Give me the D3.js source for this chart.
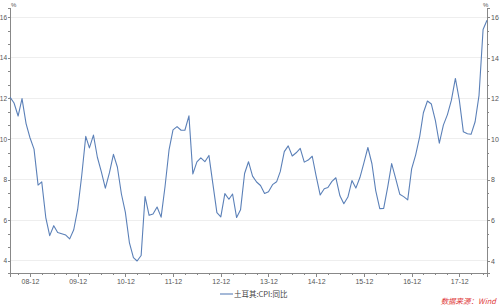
<!DOCTYPE html>
<html lang="zh">
<head>
    <meta charset="UTF-8">
    <title>土耳其:CPI:同比</title>
    <script src="https://d3js.org/d3.v7.min.js"></script>
    <style>
        body { margin: 0; background: #fff; }
        svg { display: block; font-family: "Liberation Sans", "Noto Sans CJK SC", sans-serif; }
        .axis path, .axis line { stroke: #888; shape-rendering: crispEdges; }
        .axis text { fill: #555; font-size: 7px; }
        .grid line { stroke: #eeeeee; shape-rendering: crispEdges; }
    </style>
</head>
<body>
<svg id="chart" width="500" height="306"></svg>
<script>
    // 数据: 2008-07 ~ 2018-07 月度
    var firstMonth = "2008-07";
    var lastMonth = "2018-07";
    var cpiYoY = [
        12.06, 11.77, 11.13, 11.99, 10.76, 10.06,
        9.50, 7.73, 7.89, 6.13, 5.24, 5.73, 5.39, 5.33, 5.27, 5.08, 5.53, 6.53,
        8.19, 10.13, 9.56, 10.19, 9.10, 8.37, 7.58, 8.33, 9.24, 8.62, 7.29, 6.40,
        4.90, 4.16, 3.99, 4.26, 7.17, 6.24, 6.31, 6.65, 6.15, 7.66, 9.48, 10.45,
        10.61, 10.43, 10.43, 11.14, 8.28, 8.87, 9.07, 8.88, 9.19, 7.80, 6.37, 6.16,
        7.31, 7.03, 7.29, 6.13, 6.51, 8.30, 8.88, 8.17, 7.88, 7.71, 7.32, 7.40,
        7.75, 7.89, 8.39, 9.38, 9.66, 9.16, 9.32, 9.54, 8.86, 8.96, 9.15, 8.17,
        7.24, 7.55, 7.61, 7.91, 8.09, 7.20, 6.81, 7.14, 7.95, 7.58, 8.10, 8.81,
        9.58, 8.78, 7.46, 6.57, 6.58, 7.64, 8.79, 8.05, 7.28, 7.16, 7.00, 8.53,
        9.22, 10.13, 11.29, 11.87, 11.72, 10.90, 9.79, 10.68, 11.20, 11.90, 12.98, 11.92,
        10.35, 10.26, 10.23, 10.85, 12.15, 15.39, 15.85
    ];
    var xTickLabels = ["08-12", "09-12", "10-12", "11-12", "12-12", "13-12", "14-12", "15-12", "16-12", "17-12"];
    var yTicks = [4, 6, 8, 10, 12, 14, 16];
    var seriesName = "土耳其:CPI:同比";
    var sourceText = "数据来源：Wind";

    var parseMonth = d3.timeParse("%Y-%m");
    var start = parseMonth(firstMonth), end = parseMonth(lastMonth);
    var months = d3.timeMonth.range(start, d3.timeMonth.offset(end, 1));
    var data = months.map(function(d, i) { return { date: d, value: cpiYoY[i] }; });

    var plotL = 10, plotR = 487, plotT = 8, plotB = 273;
    var svg = d3.select("#chart");

    var x = d3.scaleTime().domain([start, end]).range([plotL, plotR]);
    var y = d3.scaleLinear().domain([3.4, 16.45]).range([plotB, plotT]);

    // 网格线
    svg.append("g").attr("class", "grid")
        .selectAll("line").data(yTicks).enter().append("line")
        .attr("x1", plotL).attr("x2", plotR)
        .attr("y1", function(d) { return y(d); })
        .attr("y2", function(d) { return y(d); });

    // y轴 小刻度 (每格 2/3)
    var minorY = [];
    for (var k = -1; k <= 19; k++) {
        var v = 4 + k * 2 / 3;
        if (k % 3 !== 0 && v >= 3.4 && v <= 16.45) minorY.push(v);
    }

    svg.append("g").attr("class", "axis")
        .attr("transform", "translate(" + plotL + ",0)")
        .call(d3.axisLeft(y).tickValues(minorY).tickSize(2).tickFormat(""));
    svg.append("g").attr("class", "axis")
        .attr("transform", "translate(" + plotL + ",0)")
        .call(d3.axisLeft(y).tickValues(yTicks).tickSize(2.5).tickPadding(0.5).tickFormat(d3.format("d")));

    svg.append("g").attr("class", "axis")
        .attr("transform", "translate(" + plotR + ",0)")
        .call(d3.axisRight(y).tickValues(minorY).tickSize(2).tickFormat(""));
    svg.append("g").attr("class", "axis")
        .attr("transform", "translate(" + plotR + ",0)")
        .call(d3.axisRight(y).tickValues(yTicks).tickSize(3).tickPadding(1).tickFormat(d3.format("d")));

    svg.selectAll(".axis text").filter(function() { return this.closest("g.axis").getAttribute("transform") === "translate(" + plotL + ",0)"; })
        .style("font-size", "6.5px");

    // x轴
    var majorX = xTickLabels.map(function(s) { return d3.timeParse("%y-%m")(s); });
    var minorX = months.filter(function(d) { return d.getMonth() % 3 === 2 && d.getMonth() !== 11; });

    svg.append("g").attr("class", "axis")
        .attr("transform", "translate(0," + plotB + ")")
        .call(d3.axisBottom(x).tickValues(minorX).tickSize(2).tickFormat(""));
    svg.append("g").attr("class", "axis")
        .attr("transform", "translate(0," + plotB + ")")
        .call(d3.axisBottom(x).tickValues(majorX).tickSize(4).tickPadding(2)
            .tickFormat(function(d, i) { return xTickLabels[i]; }));

    // 单位
    svg.append("text").attr("x", plotL + 1).attr("y", 7).attr("font-size", 6).attr("fill", "#555").text("%");
    svg.append("text").attr("x", plotR - 4).attr("y", 7).attr("font-size", 6).attr("fill", "#555").text("%");

    // 折线
    var line = d3.line()
        .x(function(d) { return x(d.date); })
        .y(function(d) { return y(d.value); });
    svg.append("path").datum(data)
        .attr("fill", "none")
        .attr("stroke", "#5b80b8")
        .attr("stroke-width", 1.1)
        .attr("stroke-linejoin", "round")
        .attr("d", line);

    // 图例
    var legend = svg.append("g").attr("transform", "translate(220,294)");
    legend.append("line").attr("x1", 0).attr("x2", 13).attr("y1", 0).attr("y2", 0)
        .attr("stroke", "#5b80b8").attr("stroke-width", 1.1);
    legend.append("text").attr("x", 14).attr("y", 2.5)
        .attr("font-size", 7.5).attr("fill", "#444")
        .attr("font-family", "'Noto Sans CJK SC', sans-serif")
        .text(seriesName);

    // 数据来源
    svg.append("text").attr("x", 496).attr("y", 304)
        .attr("text-anchor", "end")
        .attr("font-size", 7.5).attr("font-style", "italic")
        .attr("font-family", "'Noto Sans CJK SC', sans-serif")
        .attr("fill", "#e03a3a")
        .text(sourceText);
</script>
</body>
</html>
